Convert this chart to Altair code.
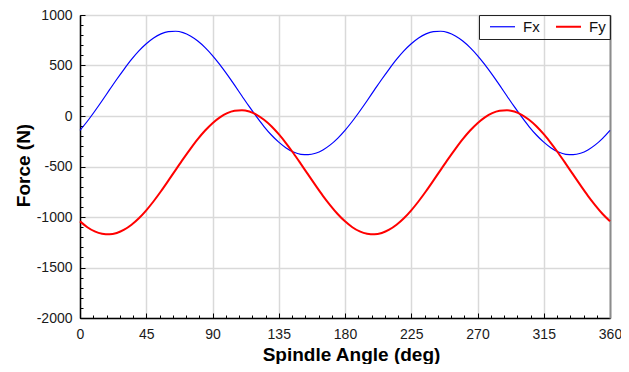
import altair as alt
import pandas as pd

# ---- data ----
angles = list(range(0, 365, 5))
fx = [-142, -52, 47, 151, 258, 364, 465, 560, 644, 715, 772, 813, 835, 839, 825, 792,
      742, 677, 598, 508, 409, 305, 198, 92, -9, -104, -188, -259, -316, -357, -379, -383,
      -369, -336, -286, -221,
      -142, -52, 47, 151, 258, 364, 465, 560, 644, 715, 772, 813, 835, 839, 825, 792,
      742, 677, 598, 508, 409, 305, 198, 92, -9, -104, -188, -259, -316, -357, -379, -383,
      -369, -336, -286, -221,
      -142]
fy = [-1043, -1101, -1143, -1166, -1172, -1158, -1126, -1077, -1013, -934, -844, -745,
      -640, -533, -427, -325, -229, -144, -71, -13, 29, 52, 58, 44, 12, -37, -101, -180,
      -270, -369, -474, -581, -687, -790, -884, -970,
      -1043, -1101, -1143, -1166, -1172, -1158, -1126, -1077, -1013, -934, -844, -745,
      -640, -533, -427, -325, -229, -144, -71, -13, 29, 52, 58, 44, 12, -37, -101, -180,
      -270, -369, -474, -581, -687, -790, -884, -970,
      -1043]
series_names = ["Fx", "Fy"]
series_colors = ["#0000ff", "#ff0000"]
series_widths = [1.2, 2.0]
x_major = [0, 45, 90, 135, 180, 225, 270, 315, 360]
x_minor = list(range(0, 361, 9))
y_major = [-2000, -1500, -1000, -500, 0, 500, 1000]
y_minor = list(range(-2000, 1001, 100))

rows = []
for a, v in zip(angles, fx):
    rows.append({"angle": a, "force": v, "series": "Fx"})
for a, v in zip(angles, fy):
    rows.append({"angle": a, "force": v, "series": "Fy"})
df = pd.DataFrame(rows)

W, H = 530, 303
FONT = "Liberation Sans"

xs = alt.Scale(domain=[0, 360], nice=False, zero=False)
ys = alt.Scale(domain=[-2000, 1000], nice=False, zero=False)

lines = alt.Chart(df).mark_line(interpolate="monotone").encode(
    x=alt.X("angle:Q", scale=xs, axis=alt.Axis(
        orient="bottom", values=x_major, title="Spindle Angle (deg)",
        labelExpr="'' + datum.value",
        ticks=False, labelPadding=9, labelFontSize=14, labelFont=FONT, labelColor="#1a1a1a",
        domainColor="#000000", domainWidth=1.5, grid=True, gridColor="#d9d9d9", gridWidth=1.5,
        titleFont=FONT, titleFontSize=19, titleFontWeight="bold", titleColor="#000000",
        titleX=271, titleY=42, titleBaseline="alphabetic", labelFlush=False)),
    y=alt.Y("force:Q", scale=ys, axis=alt.Axis(
        orient="left", values=y_major, title="Force (N)",
        labelExpr="'' + datum.value",
        ticks=False, labelPadding=8, labelFontSize=14, labelFont=FONT, labelColor="#1a1a1a",
        domainColor="#000000", domainWidth=1.5, grid=True, gridColor="#d9d9d9", gridWidth=1.5,
        titleFont=FONT, titleFontSize=19, titleFontWeight="bold", titleColor="#000000",
        titleAngle=-90, titleX=-57, titleY=150, titleBaseline="middle", titleAlign="center",
        labelFlush=False)),
    color=alt.Color("series:N", scale=alt.Scale(domain=series_names, range=series_colors),
                    legend=alt.Legend(orient="top-right", direction="horizontal", title=None,
                                      offset=0, strokeColor="#222222", padding=4,
                                      symbolType="M-2.5,0H2.5", symbolSize=100,
                                      symbolStrokeWidth=1.5, symbolOffset=12,
                                      labelExpr="datum.label == 'Fy' ? 'Fy ' : datum.label",
                                      labelFontSize=15, labelFont=FONT, labelColor="#111111",
                                      labelOffset=13, columnPadding=9)),
    strokeWidth=alt.StrokeWidth("series:N", scale=alt.Scale(domain=series_names, range=series_widths),
                                legend=None),
)

major_ticks = alt.Chart(df).mark_line(opacity=0).encode(
    x=alt.X("angle:Q", scale=xs, axis=alt.Axis(
        orient="top", offset=-H, values=x_major, labels=False, domain=False, grid=False,
        ticks=True, tickSize=5, tickColor="#000000", tickWidth=1, title=None)),
    y=alt.Y("force:Q", scale=ys, axis=alt.Axis(
        orient="right", offset=-W, values=y_major, labels=False, domain=False, grid=False,
        ticks=True, tickSize=5, tickColor="#000000", tickWidth=1, title=None)),
)

minor_ticks = alt.Chart(df).mark_line(opacity=0).encode(
    x=alt.X("angle:Q", scale=xs, axis=alt.Axis(
        orient="top", offset=-H, values=x_minor, labels=False, domain=False, grid=False,
        ticks=True, tickSize=3, tickColor="#000000", tickWidth=1, title=None)),
    y=alt.Y("force:Q", scale=ys, axis=alt.Axis(
        orient="right", offset=-W, values=y_minor, labels=False, domain=False, grid=False,
        ticks=True, tickSize=3, tickColor="#000000", tickWidth=1, title=None)),
)

right_border = alt.Chart(df).mark_line(opacity=0).encode(
    x=alt.X("angle:Q", scale=xs, axis=None),
    y=alt.Y("force:Q", scale=ys, axis=alt.Axis(
        orient="right", offset=0, labels=False, ticks=False, grid=False, domain=True,
        domainColor="#8c8c8c", domainWidth=2, title=None)),
)

chart = alt.layer(lines, major_ticks, minor_ticks, right_border).resolve_axis(
    x="independent", y="independent"
).properties(
    width=W, height=H,
    autosize=alt.AutoSizeParams(type="none"),
    padding={"left": 72, "top": 7, "right": 11, "bottom": 46},
    background="white",
).configure_view(stroke=None)

chart.save("out.html", embed_options={"renderer": "svg", "actions": False})
